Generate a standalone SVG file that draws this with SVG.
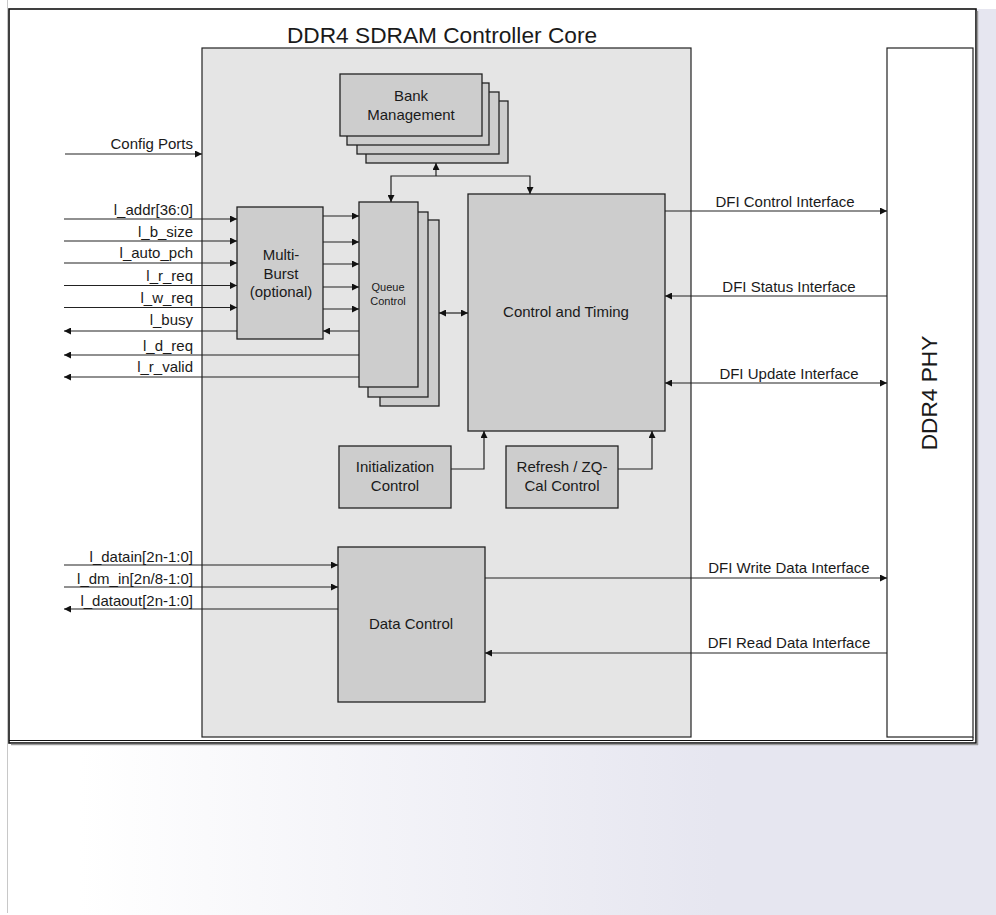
<svg xmlns="http://www.w3.org/2000/svg" width="996" height="915" viewBox="0 0 996 915">
<defs>
<linearGradient id="bg" x1="0" y1="0" x2="996" y2="0" gradientUnits="userSpaceOnUse">
<stop offset="0.08" stop-color="#ffffff"/>
<stop offset="0.72" stop-color="#e6e6f0"/>
<stop offset="1" stop-color="#e6e6f0"/>
</linearGradient>
<marker id="arr" viewBox="0 0 7 7" refX="7" refY="3.5" markerWidth="7" markerHeight="7" markerUnits="userSpaceOnUse" orient="auto-start-reverse">
<path d="M0,0 L7,3.5 L0,7 z" fill="#111"/>
</marker>
<style>
text{font-family:"Liberation Sans",Arial,sans-serif;fill:#1a1a1a;font-size:15px}
.r{text-anchor:end}
.m{text-anchor:middle}
.big{font-size:22.7px}
.sm{font-size:11px}
.core{fill:#e5e5e5;stroke:#222;stroke-width:1.2}
.box{fill:#cdcdcd;stroke:#222;stroke-width:1.3}
.phy{fill:#ffffff;stroke:#222;stroke-width:1.2}
.c path{fill:none;stroke:#222;stroke-width:1.2}
.e{marker-end:url(#arr)}
.b{marker-start:url(#arr);marker-end:url(#arr)}
</style>
</defs>
<!-- page background -->
<rect x="0" y="0" width="996" height="915" fill="url(#bg)"/>
<rect x="0" y="0" width="996" height="9" fill="#ffffff"/>
<line x1="7.5" y1="0" x2="7.5" y2="913" stroke="#c8c8c8" stroke-width="1"/>
<!-- outer frame -->
<rect x="9" y="9" width="967" height="734" fill="#ffffff" stroke="#111" stroke-width="1.6"/>
<line x1="977.5" y1="11" x2="977.5" y2="745" stroke="#9a9a9a" stroke-width="1.5"/>
<line x1="11" y1="744.5" x2="978" y2="744.5" stroke="#9a9a9a" stroke-width="1.5"/>
<line x1="9" y1="740.5" x2="973" y2="740.5" stroke="#111" stroke-width="1"/>

<g id="title"><text class="m big" x="442" y="43">DDR4 SDRAM Controller Core</text></g>

<g id="core"><rect class="core" x="202" y="48" width="489" height="689"/></g>

<g id="phy">
<rect class="phy" x="887" y="48" width="86" height="689"/>
<line x1="973" y1="737" x2="973" y2="740.5" stroke="#222" stroke-width="1.2"/>
<text class="m big" transform="translate(936.5,393) rotate(-90)" x="0" y="0">DDR4 PHY</text>
</g>

<g id="bank-management">
<rect class="box" x="366" y="101" width="142" height="62"/>
<rect class="box" x="357" y="92" width="142" height="62"/>
<rect class="box" x="347" y="83" width="142" height="62"/>
<rect class="box" x="340" y="74" width="142" height="62"/>
<text class="m" x="411" y="101">Bank</text>
<text class="m" x="411" y="120">Management</text>
</g>

<g id="multi-burst">
<rect class="box" x="237" y="207" width="86" height="132"/>
<text class="m" x="281" y="260">Multi-</text>
<text class="m" x="281" y="279">Burst</text>
<text class="m" x="281" y="297">(optional)</text>
</g>

<g id="queue-control">
<rect class="box" x="380" y="220" width="59" height="186"/>
<rect class="box" x="368" y="212" width="60" height="185"/>
<rect class="box" x="359" y="202" width="59" height="185"/>
<text class="m sm" x="388" y="291">Queue</text>
<text class="m sm" x="388" y="305">Control</text>
</g>

<g id="control-timing">
<rect class="box" x="468" y="194" width="197" height="237"/>
<text class="m" x="566" y="317">Control and Timing</text>
</g>

<g id="init-control">
<rect class="box" x="339" y="446" width="112" height="62"/>
<text class="m" x="395" y="472">Initialization</text>
<text class="m" x="395" y="491">Control</text>
</g>

<g id="refresh-control">
<rect class="box" x="506" y="446" width="112" height="62"/>
<text class="m" x="562" y="472">Refresh / ZQ-</text>
<text class="m" x="562" y="491">Cal Control</text>
</g>

<g id="data-control">
<rect class="box" x="338" y="547" width="147" height="155"/>
<text class="m" x="411" y="629">Data Control</text>
</g>

<g id="connectors" class="c">
<path class="e" d="M65,154 H202"/>
<path class="e" d="M64,219 H237"/>
<path class="e" d="M64,241 H237"/>
<path class="e" d="M64,263 H237"/>
<path class="e" d="M64,285.5 H237"/>
<path class="e" d="M64,307.5 H237"/>
<path class="e" d="M237,331 H64"/>
<path class="e" d="M359,355 H64"/>
<path class="e" d="M359,377 H64"/>
<path class="e" d="M323,216 H359"/>
<path class="e" d="M323,242 H359"/>
<path class="e" d="M323,264 H359"/>
<path class="e" d="M323,287 H359"/>
<path class="e" d="M323,309 H359"/>
<path class="e" d="M359,331 H323"/>
<path class="b" d="M439,313 H468"/>
<path class="e" d="M436,176 V163"/>
<path class="b" d="M391,202 V176 H530 V194"/>
<path class="e" d="M665,211 H887"/>
<path class="e" d="M887,296 H665"/>
<path class="b" d="M665,383 H887"/>
<path class="e" d="M451,469 H484 V431"/>
<path class="e" d="M618,469 H652 V431"/>
<path class="e" d="M64,565 H338"/>
<path class="e" d="M64,587 H338"/>
<path class="e" d="M338,609 H64"/>
<path class="e" d="M485,578 H887"/>
<path class="e" d="M887,653 H485"/>
</g>

<g id="labels">
<text class="r" x="193" y="149">Config Ports</text>
<text class="r" x="193" y="215">l_addr[36:0]</text>
<text class="r" x="193" y="236.5">l_b_size</text>
<text class="r" x="193" y="258">l_auto_pch</text>
<text class="r" x="193" y="281">l_r_req</text>
<text class="r" x="193" y="303">l_w_req</text>
<text class="r" x="193" y="325">l_busy</text>
<text class="r" x="193" y="351">l_d_req</text>
<text class="r" x="193" y="372">l_r_valid</text>
<text class="r" x="193" y="561.5">l_datain[2n-1:0]</text>
<text class="r" x="193" y="584">l_dm_in[2n/8-1:0]</text>
<text class="r" x="193" y="606">l_dataout[2n-1:0]</text>
<text class="m" x="785" y="207">DFI Control Interface</text>
<text class="m" x="789" y="292">DFI Status Interface</text>
<text class="m" x="789" y="379">DFI Update Interface</text>
<text class="m" x="789" y="573">DFI Write Data Interface</text>
<text class="m" x="789" y="648">DFI Read Data Interface</text>
</g>
</svg>
